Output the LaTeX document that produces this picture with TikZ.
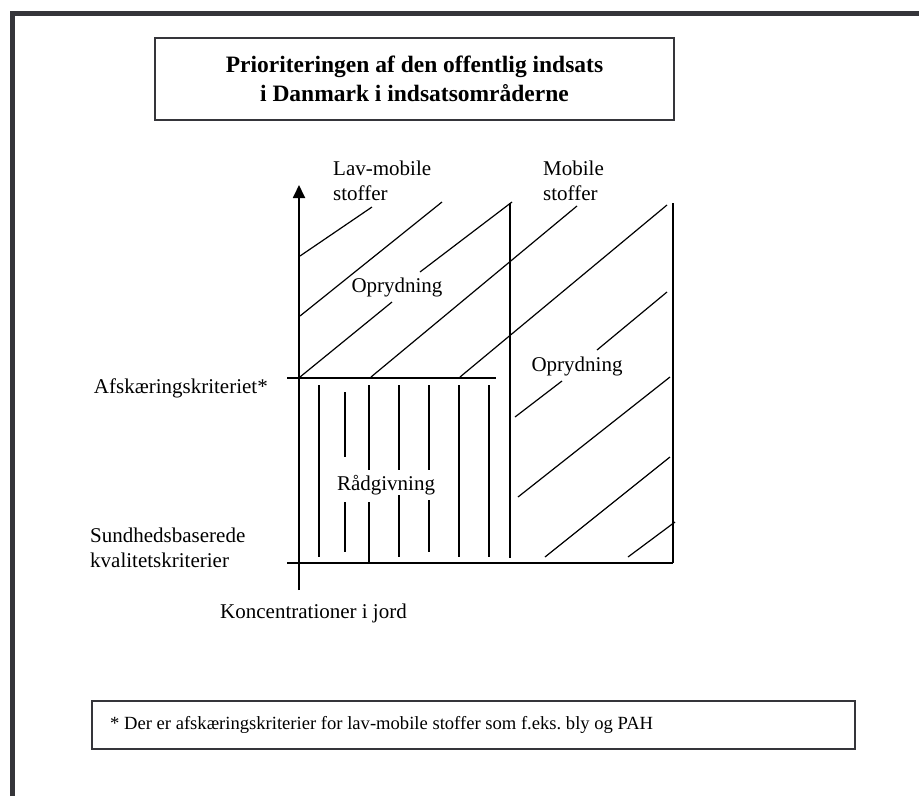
\documentclass[tikz,border=0pt]{standalone}
\usepackage{fontspec}
\setmainfont{Liberation Serif}
\usepackage{tikz}
\usetikzlibrary{arrows.meta}
\definecolor{framegray}{HTML}{35353A}
\frenchspacing

\begin{document}
\begin{tikzpicture}[x=1pt,y=-1pt,
    lbl/.style={font=\fontsize{21}{25}\selectfont,inner sep=0pt,align=left},
    hatch/.style={line width=1.2pt},
    bar/.style={line width=1.8pt},
    boxed/.style={draw=framegray,line width=2.2pt}]
  \useasboundingbox (0,0) rectangle (919,796);
  \fill[white] (0,0) rectangle (919,796);
  % frame round the page
  \draw[framegray,line width=5pt] (12.5,796) -- (12.5,13.5) -- (919,13.5);
  % heading and footnote
  \node[boxed,minimum width=519pt,minimum height=82pt,align=center,
        font=\bfseries\fontsize{23.5}{29}\selectfont] (title) at (414.5,79)
        {Prioriteringen af den offentlig indsats\\i Danmark i indsatsområderne};
  \node[boxed,minimum width=763pt,minimum height=48pt,inner xsep=19pt,anchor=west,
        font=\fontsize{18.6}{23}\selectfont] (note) at (91,725) {};
  \node[anchor=west,inner sep=0pt,font=\fontsize{18.6}{23}\selectfont] (notetxt) at (110,725)
        {* Der er afskæringskriterier for lav-mobile stoffer som f.eks. bly og PAH};
  % axes and limits
  \coordinate (ybot) at (299,590);
  \coordinate (ytop) at (299,185);
  \draw[bar,-{Triangle[length=13pt,width=12pt]}] (ybot) -- (ytop);
  \draw[bar] (287,378) -- (496,378);
  \draw[bar] (287,563) -- (673,563);
  \draw[bar] (510,203) -- (510,558);
  \draw[bar] (673,203) -- (673,563);
  % oprydning hatching
  \foreach \xa/\ya/\xb/\yb in {300/256/372/207, 300/316/442/202, 420/272/512/202,
      300/377/392/302, 371/377/577/206, 460/377/667/205, 597/350/667/292,
      515/417/562/381, 518/497/670/377, 545/557/670/457, 628/557/675/522}
    \draw[hatch] (\xa,\ya) -- (\xb,\yb);
  % raadgivning hatching
  \foreach \xv/\ya/\yb in {319/385/557, 345/392/457, 345/502/552, 369/385/470,
      369/502/563, 399/385/470, 399/495/557, 429/385/470, 429/500/552,
      459/385/557, 489/385/557}
    \draw[bar] (\xv,\ya) -- (\xv,\yb);
  % labels
  \node[lbl,anchor=west] (lavmob) at (333,181) {Lav-mobile\\stoffer};
  \node[lbl,anchor=west] (mob) at (543,181) {Mobile\\stoffer};
  \node[lbl] (opr1) at (397,287) {Oprydning};
  \node[lbl] (opr2) at (577,366) {Oprydning};
  \node[lbl] (raad) at (386,485) {Rådgivning};
  \node[lbl,anchor=east] (afsk) at (268,388) {Afskæringskriteriet*};
  \node[lbl,anchor=west] (sund) at (90,548) {Sundhedsbaserede\\kvalitetskriterier};
  \node[lbl,anchor=west] (konc) at (220,613) {Koncentrationer i jord};
\end{tikzpicture}
\end{document}
